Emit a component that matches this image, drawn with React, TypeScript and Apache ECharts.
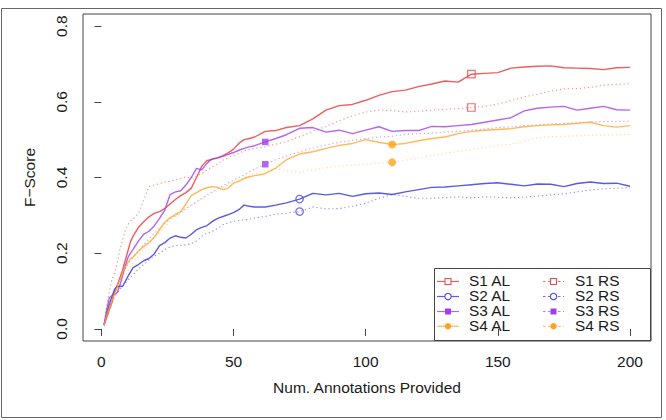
import React, { useEffect, useRef } from "react";
import * as echarts from "echarts";

// Number of annotations provided (shared x positions of every curve)
const annotations = [
  1, 2, 3, 4, 5, 6, 7, 8, 9, 10, 11, 12,
  14, 16, 18, 20, 22, 24, 26, 28, 30, 32, 34, 36, 38, 40, 42, 44, 46, 48, 50, 52, 54, 56, 58,
  62, 66, 70,
  75, 80, 85, 90, 95, 100, 105, 110, 115, 120, 125, 130, 135, 140, 145, 150, 155, 160, 165, 170, 175, 180, 185, 190, 195, 200,
];

// F-Score curves: active learning (AL) and random sampling (RS) per setting
const s1Al = [
  0.01, 0.03, 0.05, 0.07, 0.1, 0.115, 0.135, 0.155, 0.18, 0.205, 0.23, 0.245,
  0.268, 0.283, 0.296, 0.305, 0.31, 0.318, 0.33, 0.342, 0.352, 0.36, 0.372, 0.4, 0.43, 0.445, 0.448, 0.452, 0.458, 0.465, 0.475, 0.49, 0.5, 0.503, 0.507,
  0.522, 0.524, 0.532,
  0.537, 0.555, 0.578, 0.59, 0.593, 0.604, 0.617, 0.627, 0.631, 0.64, 0.647, 0.655, 0.652, 0.673, 0.675, 0.677, 0.689, 0.692, 0.694, 0.695, 0.69, 0.689, 0.688, 0.685, 0.69, 0.691,
];
const s1Rs = [
  0.01, 0.06, 0.1, 0.13, 0.15, 0.175, 0.21, 0.235, 0.26, 0.275, 0.285, 0.29,
  0.305, 0.34, 0.376, 0.38, 0.384, 0.388, 0.39, 0.394, 0.398, 0.402, 0.398, 0.404, 0.41, 0.42, 0.428, 0.436, 0.446, 0.452, 0.458, 0.464, 0.47, 0.474, 0.477,
  0.481, 0.488, 0.495,
  0.508, 0.522, 0.535, 0.55, 0.563, 0.573, 0.578, 0.577, 0.573, 0.575, 0.578, 0.58, 0.582, 0.585, 0.588, 0.594, 0.603, 0.613, 0.62, 0.628, 0.634, 0.635, 0.638, 0.644, 0.646, 0.648,
];
const s2Al = [
  0.01, 0.04, 0.065, 0.085, 0.105, 0.112, 0.113, 0.112, 0.125, 0.138, 0.15, 0.162,
  0.17, 0.18, 0.186, 0.198, 0.22, 0.228, 0.24, 0.246, 0.242, 0.24, 0.25, 0.262, 0.268, 0.273, 0.284, 0.292, 0.297, 0.302, 0.307, 0.315, 0.327, 0.324, 0.322,
  0.322, 0.327, 0.333,
  0.343, 0.358, 0.354, 0.358, 0.35, 0.357, 0.359, 0.355, 0.362, 0.368, 0.374, 0.375, 0.378, 0.381, 0.384, 0.386, 0.382, 0.378, 0.383, 0.382, 0.376, 0.384, 0.388, 0.384, 0.385, 0.377,
];
const s2Rs = [
  0.01, 0.035, 0.055, 0.07, 0.084, 0.095, 0.105, 0.113, 0.12, 0.128, 0.136, 0.143,
  0.158, 0.17, 0.182, 0.192, 0.2, 0.21, 0.216, 0.22, 0.221, 0.222, 0.225, 0.232, 0.245, 0.253, 0.258, 0.265, 0.275, 0.28, 0.284, 0.287, 0.288, 0.29, 0.293,
  0.297, 0.303, 0.306,
  0.31, 0.322, 0.317, 0.318, 0.324, 0.332, 0.345, 0.355, 0.35, 0.345, 0.345, 0.347, 0.349, 0.346, 0.349, 0.348, 0.346, 0.348, 0.351, 0.354, 0.357, 0.362, 0.367, 0.37, 0.372, 0.373,
];
const s3Al = [
  0.01, 0.05, 0.082, 0.088, 0.092, 0.096, 0.115, 0.14, 0.165, 0.188, 0.2, 0.21,
  0.232, 0.25, 0.258, 0.272, 0.292, 0.314, 0.355, 0.362, 0.365, 0.38, 0.4, 0.424, 0.42, 0.438, 0.45, 0.452, 0.456, 0.461, 0.466, 0.472, 0.477, 0.481, 0.484,
  0.494, 0.503, 0.513,
  0.53, 0.532, 0.52, 0.525, 0.516, 0.525, 0.534, 0.522, 0.524, 0.524, 0.535, 0.534, 0.537, 0.54, 0.546, 0.552, 0.558, 0.576, 0.583, 0.586, 0.588, 0.578, 0.583, 0.588, 0.579, 0.578,
];
const s3Rs = [
  0.01, 0.04, 0.065, 0.085, 0.1, 0.115, 0.13, 0.145, 0.158, 0.17, 0.18, 0.19,
  0.205, 0.222, 0.238, 0.252, 0.266, 0.278, 0.29, 0.3, 0.31, 0.318, 0.327, 0.336, 0.345, 0.354, 0.362, 0.37, 0.378, 0.386, 0.393, 0.4, 0.407, 0.415, 0.422,
  0.435, 0.447, 0.457,
  0.468, 0.478, 0.486, 0.493, 0.498, 0.503, 0.507, 0.509, 0.514, 0.516, 0.517, 0.52, 0.522, 0.525, 0.528, 0.532, 0.534, 0.537, 0.539, 0.542, 0.543, 0.545, 0.547, 0.548, 0.548, 0.549,
];
const s4Al = [
  0.01, 0.035, 0.055, 0.075, 0.093, 0.11, 0.13, 0.148, 0.163, 0.175, 0.185, 0.19,
  0.205, 0.218, 0.228, 0.242, 0.262, 0.282, 0.294, 0.302, 0.31, 0.33, 0.352, 0.36, 0.368, 0.373, 0.376, 0.374, 0.368, 0.372, 0.385, 0.39, 0.398, 0.402, 0.405,
  0.41, 0.425, 0.447,
  0.462, 0.468, 0.477, 0.485, 0.49, 0.5, 0.493, 0.487, 0.49, 0.497, 0.503, 0.507, 0.516, 0.522, 0.525, 0.527, 0.529, 0.534, 0.537, 0.539, 0.54, 0.543, 0.546, 0.537, 0.533, 0.537,
];
const s4Rs = [
  0.01, 0.04, 0.06, 0.08, 0.095, 0.105, 0.118, 0.13, 0.142, 0.152, 0.165, 0.175,
  0.192, 0.21, 0.225, 0.242, 0.255, 0.268, 0.285, 0.296, 0.305, 0.318, 0.326, 0.334, 0.343, 0.35, 0.358, 0.366, 0.374, 0.382, 0.388, 0.393, 0.398, 0.404, 0.41,
  0.418, 0.424, 0.418,
  0.414, 0.42, 0.426, 0.43, 0.433, 0.435, 0.438, 0.44, 0.446, 0.452, 0.458, 0.464, 0.469, 0.474, 0.479, 0.485, 0.488, 0.495, 0.505, 0.508, 0.509, 0.51, 0.512, 0.512, 0.513, 0.514,
];

// Annotation count at which each setting's curves carry a marker
const markerAt = { s1: 140, s2: 75, s3: 62, s4: 110 };

const xTicks = [0, 50, 100, 150, 200];
const yTicks = [0, 0.2, 0.4, 0.6, 0.8];

const legendLabels = ["S1 AL", "S2 AL", "S3 AL", "S4 AL", "S1 RS", "S2 RS", "S3 RS", "S4 RS"];

const FONT = "'Liberation Sans', Arial, Helvetica, sans-serif";
const INK = "#1a1a1a";

const settings = [
  { key: "s1", al: s1Al, rs: s1Rs, color: "#EC4B4E", marker: "rect", filled: false, alOpacity: 0.9, rsOpacity: 0.6 },
  { key: "s2", al: s2Al, rs: s2Rs, color: "#4848E2", marker: "circle", filled: false, alOpacity: 0.9, rsOpacity: 0.6 },
  { key: "s3", al: s3Al, rs: s3Rs, color: "#A03EEE", marker: "rect", filled: true, alOpacity: 0.8, rsOpacity: 0.5 },
  { key: "s4", al: s4Al, rs: s4Rs, color: "#FFA31A", marker: "circle", filled: true, alOpacity: 0.75, rsOpacity: 0.4 },
];

const pairs = (ys: number[]) => annotations.map((x, i) => [x, ys[i]]);
const pointAt = (ys: number[], x: number) => [x, ys[annotations.indexOf(x)]];

function markerStyle(color: string, filled: boolean) {
  return filled
    ? { color, borderColor: color, borderWidth: 0 }
    : { color: "rgba(0,0,0,0)", borderColor: color, borderWidth: 1.2 };
}

// Two-column key in the lower-right corner of the plot box
function buildLegend() {
  const children: any[] = [];
  children.push({
    type: "rect",
    shape: { x: 434.5, y: 268.5, width: 216, height: 72 },
    style: { fill: "#fff", stroke: "#444", lineWidth: 1 },
  });
  const rows = [281.5, 296.5, 311.5, 326.3];
  settings.forEach((s, i) => {
    const y = rows[i];
    [
      { x1: 437, x2: 459, cx: 448, tx: 469, dash: null as any, label: legendLabels[i], op: s.alOpacity },
      { x1: 543, x2: 564, cx: 553.5, tx: 575, dash: [2.5, 2.5], label: legendLabels[i + 4], op: s.rsOpacity + 0.2 },
    ].forEach((c) => {
      children.push({
        type: "line",
        shape: { x1: c.x1, y1: y, x2: c.x2, y2: y },
        style: { stroke: s.color, lineWidth: 1.2, opacity: c.op, lineDash: c.dash },
      });
      const st = s.filled
        ? { fill: s.color, stroke: s.color, lineWidth: 0 }
        : { fill: "#fff", stroke: s.color, lineWidth: 1.1 };
      if (s.marker === "rect") {
        children.push({ type: "rect", shape: { x: c.cx - 3, y: y - 3, width: 6, height: 6 }, style: st });
      } else {
        children.push({ type: "circle", shape: { cx: c.cx, cy: y, r: 3.2 }, style: st });
      }
      children.push({
        type: "text",
        x: c.tx,
        y,
        scaleX: 1.1,
        style: {
          text: c.label,
          fill: INK,
          fontSize: 14,
          lineHeight: 14,
          fontFamily: FONT,
          verticalAlign: "middle",
          align: "left",
        },
      });
    });
  });
  return { type: "group", children, z: 10 };
}

export default function App() {
  const ref = useRef<HTMLDivElement>(null);

  useEffect(() => {
    if (!ref.current) return;
    const chart = echarts.init(ref.current, null, { renderer: "svg" });

    const series: any[] = [];
    settings.forEach((s) => {
      series.push({
        type: "line",
        data: pairs(s.rs),
        symbol: "none",
        silent: true,
        z: 2,
        lineStyle: { color: s.color, width: 1.1, type: [1.3, 2.7], opacity: s.rsOpacity },
      });
    });
    settings.forEach((s) => {
      series.push({
        type: "line",
        data: pairs(s.al),
        symbol: "none",
        silent: true,
        z: 3,
        lineStyle: { color: s.color, width: 1.4, opacity: s.alOpacity },
      });
    });
    settings.forEach((s) => {
      const x = (markerAt as any)[s.key];
      series.push({
        type: "scatter",
        data: [pointAt(s.al, x), pointAt(s.rs, x)],
        symbol: s.marker,
        symbolSize: s.marker === "rect" ? (s.filled ? 6.5 : 7.5) : s.filled ? 8 : 7.5,
        silent: true,
        z: 4,
        itemStyle: markerStyle(s.color, s.filled),
      });
    });

    chart.setOption({
      animation: false,
      backgroundColor: "#fff",
      grid: {
        left: 83,
        top: 14,
        width: 568,
        height: 327,
        show: true,
        borderColor: "#444",
        borderWidth: 1,
        backgroundColor: "rgba(0,0,0,0)",
      },
      xAxis: {
        type: "value",
        min: -6.96,
        max: 207.96,
        name: "Num. Annotations Provided",
        nameLocation: "middle",
        nameGap: 38,
        nameTextStyle: { color: INK, fontSize: 15.5, fontFamily: FONT },
        axisLine: { show: false },
        splitLine: { show: false },
        axisTick: { show: true, length: 7, customValues: xTicks, lineStyle: { color: "#444" } },
        axisLabel: { customValues: xTicks, color: INK, fontSize: 15.5, fontFamily: FONT, margin: 12 },
      },
      yAxis: {
        type: "value",
        min: -0.032,
        max: 0.832,
        name: "F\u2212Score",
        nameLocation: "middle",
        nameRotate: 90,
        nameGap: 46,
        nameTextStyle: { color: INK, fontSize: 15.5, fontFamily: FONT },
        axisLine: { show: false },
        splitLine: { show: false },
        axisTick: { show: true, length: 7, customValues: yTicks, lineStyle: { color: "#444" } },
        axisLabel: {
          customValues: yTicks,
          rotate: 90,
          color: INK,
          fontSize: 15.5,
          fontFamily: FONT,
          margin: 14,
          formatter: (v: number) => v.toFixed(1),
        },
      },
      graphic: [
        {
          type: "rect",
          shape: { x: 1.5, y: 8.5, width: 660, height: 409 },
          style: { fill: "none", stroke: "#666", lineWidth: 1 },
          z: 0,
        },
        buildLegend(),
      ],
      series,
    });

    return () => chart.dispose();
  }, []);

  return <div ref={ref} style={{ position: "fixed", left: 0, top: 0, width: 666, height: 420 }} />;
}
